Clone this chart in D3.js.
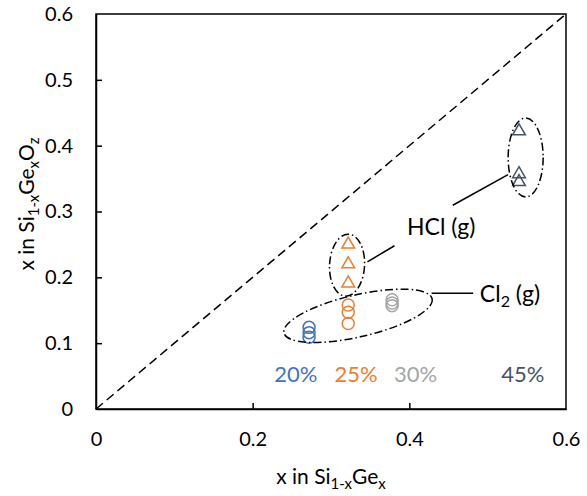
<!DOCTYPE html>
<html>
<head>
<meta charset="utf-8">
<script src="https://cdn.jsdelivr.net/npm/d3@7"></script>
<style>
  body { margin: 0; background: #fff; }
  text { font-family: Lato, "Open Sans", sans-serif; }
</style>
</head>
<body>
<svg id="chart" width="587" height="496"></svg>
<script>
// Ge fraction in the SiGe alloy vs Ge fraction in the grown oxide
const ge20X = [0.272, 0.272, 0.272];
const ge20Cl2 = [0.124, 0.116, 0.109];
const ge25X = [0.322, 0.322, 0.322];
const ge25Cl2 = [0.158, 0.147, 0.130];
const ge25HCl = [0.250, 0.220, 0.191];
const ge30X = [0.378, 0.378, 0.378];
const ge30Cl2 = [0.166, 0.161, 0.157];
const ge45X = [0.540, 0.540, 0.540];
const ge45HCl = [0.422, 0.357, 0.345];

const xTicks = [0, 0.2, 0.4, 0.6];
const yTicks = [0, 0.1, 0.2, 0.3, 0.4, 0.5, 0.6];
const groupLabels = ["20%", "25%", "30%", "45%"];
const groupLabelX = [0.255, 0.332, 0.408, 0.545];
const groupColors = ["#4472C4", "#ED7D31", "#A5A5A5", "#44546A"];

const svg = d3.select("#chart");
const plot = { left: 96, right: 566, top: 14, bottom: 409 };

const x = d3.scaleLinear().domain([0, 0.6]).range([plot.left, plot.right]);
const y = d3.scaleLinear().domain([0, 0.6]).range([plot.bottom, plot.top]);

// Frame
svg.append("rect")
  .attr("x", plot.left).attr("y", plot.top)
  .attr("width", plot.right - plot.left).attr("height", plot.bottom - plot.top)
  .attr("fill", "none").attr("stroke", "#000").attr("stroke-width", 1.5);

// Axes with inward ticks
const xAxis = svg.append("g").attr("transform", `translate(0,${plot.bottom})`)
  .call(d3.axisBottom(x).tickValues(xTicks).tickSizeInner(-6).tickSizeOuter(0)
    .tickFormat(d => d === 0 ? "0" : d3.format(".1f")(d)).tickPadding(23));
const yAxis = svg.append("g").attr("transform", `translate(${plot.left},0)`)
  .call(d3.axisLeft(y).tickValues(yTicks).tickSizeInner(-6).tickSizeOuter(0)
    .tickFormat(d => d === 0 ? "0" : d3.format(".1f")(d)).tickPadding(23));
[xAxis, yAxis].forEach(a => {
  a.select(".domain").attr("stroke", "#000").attr("stroke-width", 1.5);
  a.selectAll(".tick line").attr("stroke", "#000").attr("stroke-width", 1.5);
  a.selectAll(".tick text").attr("font-size", 20).attr("fill", "#000")
    .style("font-family", "Lato, 'Open Sans', sans-serif");
});
xAxis.selectAll(".tick").filter(d => d === 0 || d === 0.6).select("line").remove();
yAxis.selectAll(".tick").filter(d => d === 0 || d === 0.6).select("line").remove();

// Parity line
svg.append("line")
  .attr("x1", x(0)).attr("y1", y(0)).attr("x2", x(0.6)).attr("y2", y(0.6))
  .attr("stroke", "#000").attr("stroke-width", 1.5).attr("stroke-dasharray", "9,5");

// Markers
function circles(xs, ys, color) {
  svg.append("g").selectAll("circle").data(ys).join("circle")
    .attr("cx", (d, i) => x(xs[i])).attr("cy", d => y(d)).attr("r", 6)
    .attr("fill", "none").attr("stroke", color).attr("stroke-width", 1.5);
}
function triangles(xs, ys, color) {
  const sym = d3.symbol().type(d3.symbolTriangle).size(70);
  svg.append("g").selectAll("path").data(ys).join("path")
    .attr("d", sym)
    .attr("transform", (d, i) => `translate(${x(xs[i])},${y(d)})`)
    .attr("fill", "none").attr("stroke", color).attr("stroke-width", 1.5);
}
circles(ge20X, ge20Cl2, groupColors[0]);
circles(ge25X, ge25Cl2, groupColors[1]);
triangles(ge25X, ge25HCl, groupColors[1]);
circles(ge30X, ge30Cl2, groupColors[2]);
triangles(ge45X, ge45HCl, groupColors[3]);

// Group labels
svg.append("g").selectAll("text").data(groupLabels).join("text")
  .attr("x", (d, i) => x(groupLabelX[i])).attr("y", y(0.041))
  .attr("text-anchor", "middle").attr("font-size", 22)
  .attr("fill", (d, i) => groupColors[i]).text(d => d);

// Dash-dot ellipses grouping the process gases
const dashDot = "8,3,1.5,3";
function ellipse(cx, cy, rx, ry, angle) {
  svg.append("ellipse")
    .attr("cx", 0).attr("cy", 0).attr("rx", rx).attr("ry", ry)
    .attr("transform", `translate(${x(cx)},${y(cy)}) rotate(${angle})`)
    .attr("fill", "none").attr("stroke", "#000").attr("stroke-width", 1.5)
    .attr("stroke-dasharray", dashDot);
}
ellipse(0.3205, 0.2185, 17.5, 31, 3);
ellipse(0.5485, 0.382, 17.5, 39.5, 0);
ellipse(0.3345, 0.1415, 76, 21, -13);

// Leader lines and gas labels
function leader(x1, y1, x2, y2) {
  svg.append("line").attr("x1", x(x1)).attr("y1", y(y1)).attr("x2", x(x2)).attr("y2", y(y2))
    .attr("stroke", "#000").attr("stroke-width", 1.5);
}
leader(0.3465, 0.2235, 0.381, 0.248);
leader(0.4555, 0.3095, 0.526, 0.356);
leader(0.4285, 0.1760, 0.4815, 0.1760);

svg.append("text").attr("x", x(0.397)).attr("y", y(0.264))
  .attr("font-size", 23).attr("fill", "#000").text("HCl (g)");
const cl2 = svg.append("text").attr("x", x(0.490)).attr("y", y(0.163))
  .attr("font-size", 23).attr("fill", "#000");
cl2.append("tspan").text("Cl");
cl2.append("tspan").attr("font-size", 16).attr("dy", 5).text("2");
cl2.append("tspan").attr("dy", -5).text(" (g)");

// Axis titles
const xt = svg.append("text").attr("x", (plot.left + plot.right) / 2).attr("y", 484)
  .attr("text-anchor", "middle").attr("font-size", 21).attr("fill", "#000");
xt.append("tspan").text("x in Si");
xt.append("tspan").attr("font-size", 15).attr("dy", 5).text("1-x");
xt.append("tspan").attr("dy", -5).text("Ge");
xt.append("tspan").attr("font-size", 15).attr("dy", 5).text("x");

const yt = svg.append("text")
  .attr("transform", "translate(34,204) rotate(-90)")
  .attr("text-anchor", "middle").attr("font-size", 21).attr("fill", "#000");
yt.append("tspan").text("x in Si");
yt.append("tspan").attr("font-size", 15).attr("dy", 5).text("1-x");
yt.append("tspan").attr("dy", -5).text("Ge");
yt.append("tspan").attr("font-size", 15).attr("dy", 5).text("x");
yt.append("tspan").attr("dy", -5).text("O");
yt.append("tspan").attr("font-size", 15).attr("dy", 5).text("z");
</script>
</body>
</html>
